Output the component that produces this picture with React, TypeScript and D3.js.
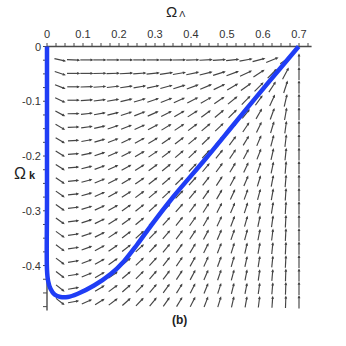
import React from 'react';
import * as d3 from 'd3';

// grid columns (Omega_Lambda) and rows (Omega_k) of the direction field
const omegaL = [0.037, 0.074, 0.111, 0.147, 0.184, 0.221, 0.258, 0.295, 0.332, 0.368, 0.405, 0.442, 0.479, 0.516, 0.553, 0.589, 0.626, 0.663, 0.7];
const omegaK = [-0.0245, -0.0491, -0.0736, -0.0981, -0.1227, -0.1472, -0.1717, -0.1962, -0.2208, -0.2453, -0.2698, -0.2944, -0.3189, -0.3434, -0.368, -0.3925, -0.417, -0.4415, -0.4661];

// arrow direction in degrees (0 = towards +Omega_Lambda, 90 = towards +Omega_k), one row per Omega_k
const angles = [
  [-12, -2, 0, 0, 0, 0, 0, 0, 0, 1, 2, 3, 4, 6, 10, 15, 22, 35, 90],
  [-18, 0, 0, 1, 2, 3, 4, 6, 8, 10, 12, 14, 17, 20, 25, 33, 45, 62, 90],
  [-22, 0, 2, 4, 6, 8, 10, 12, 15, 17, 20, 23, 26, 30, 36, 45, 57, 72, 90],
  [-25, 0, 4, 7, 10, 13, 16, 19, 21, 24, 27, 30, 34, 39, 45, 54, 65, 77, 90],
  [-28, 1, 6, 10, 14, 18, 21, 24, 27, 30, 32, 36, 40, 45, 51, 60, 70, 80, 90],
  [-30, 2, 8, 13, 18, 22, 25, 28, 31, 34, 37, 40, 44, 49, 56, 64, 73, 82, 90],
  [-31, 3, 10, 16, 21, 25, 28, 31, 34, 37, 40, 44, 48, 53, 59, 67, 75, 83, 90],
  [-32, 4, 12, 18, 23, 27, 31, 34, 37, 40, 43, 47, 51, 56, 62, 69, 77, 84, 90],
  [-33, 5, 14, 20, 25, 29, 33, 36, 39, 42, 46, 50, 54, 59, 65, 71, 78, 85, 90],
  [-34, 6, 15, 22, 27, 31, 35, 38, 41, 44, 48, 52, 57, 62, 67, 73, 79, 85, 90],
  [-35, 6, 16, 24, 29, 33, 37, 40, 43, 46, 50, 55, 60, 65, 70, 75, 80, 86, 90],
  [-35, 7, 17, 25, 30, 35, 39, 42, 46, 49, 53, 58, 63, 67, 72, 77, 81, 86, 90],
  [-36, 7, 18, 26, 32, 36, 40, 44, 48, 51, 55, 60, 65, 69, 74, 78, 82, 87, 90],
  [-36, 8, 19, 27, 33, 37, 42, 46, 49, 53, 57, 62, 67, 71, 75, 79, 83, 87, 90],
  [-37, 8, 20, 28, 34, 38, 43, 47, 51, 55, 59, 64, 69, 73, 77, 80, 84, 87, 90],
  [-37, 9, 21, 29, 35, 39, 44, 48, 52, 56, 61, 66, 70, 74, 78, 81, 84, 87, 90],
  [-38, 9, 22, 30, 35, 40, 45, 49, 53, 57, 62, 67, 71, 75, 79, 82, 85, 88, 90],
  [-38, 10, 23, 31, 36, 41, 46, 50, 54, 58, 63, 68, 72, 76, 79, 82, 85, 88, 90],
  [-38, 10, 24, 32, 37, 42, 46, 51, 55, 59, 63, 69, 73, 77, 80, 83, 86, 88, 90],
];

// relative arrow length (1 = one grid step)
const mags = [
  [0.9, 1, 1, 1, 1, 1, 1, 1, 1, 1, 1, 1, 1, 1, 1, 1, 1, 1, 1],
  [0.88, 1, 1, 1, 1, 1, 1, 1, 1, 1, 1, 1, 1, 1, 1, 1, 1, 1, 1],
  [0.86, 0.96, 0.96, 0.96, 0.96, 0.96, 0.96, 0.96, 0.96, 0.96, 0.96, 0.96, 0.96, 0.96, 0.96, 0.96, 0.96, 0.98, 1],
  [0.85, 0.93, 0.93, 0.93, 0.93, 0.93, 0.93, 0.93, 0.93, 0.93, 0.93, 0.93, 0.93, 0.93, 0.93, 0.93, 0.95, 0.97, 1],
  [0.84, 0.9, 0.9, 0.9, 0.9, 0.9, 0.9, 0.9, 0.9, 0.9, 0.9, 0.9, 0.9, 0.9, 0.9, 0.9, 0.93, 0.96, 1],
  [0.83, 0.88, 0.88, 0.88, 0.88, 0.88, 0.88, 0.88, 0.88, 0.88, 0.88, 0.88, 0.88, 0.88, 0.88, 0.88, 0.92, 0.96, 1],
  [0.82, 0.85, 0.85, 0.85, 0.85, 0.85, 0.85, 0.85, 0.85, 0.85, 0.85, 0.85, 0.85, 0.85, 0.85, 0.87, 0.9, 0.95, 1],
  [0.82, 0.85, 0.85, 0.85, 0.85, 0.85, 0.85, 0.85, 0.85, 0.85, 0.85, 0.85, 0.85, 0.85, 0.85, 0.87, 0.9, 0.95, 1],
  [0.82, 0.85, 0.85, 0.85, 0.85, 0.85, 0.85, 0.85, 0.85, 0.85, 0.85, 0.85, 0.85, 0.85, 0.85, 0.87, 0.9, 0.95, 1],
  [0.82, 0.85, 0.85, 0.85, 0.85, 0.85, 0.85, 0.85, 0.85, 0.85, 0.85, 0.85, 0.85, 0.85, 0.85, 0.87, 0.9, 0.95, 1],
  [0.82, 0.85, 0.85, 0.85, 0.85, 0.85, 0.85, 0.85, 0.85, 0.85, 0.85, 0.85, 0.85, 0.85, 0.85, 0.87, 0.9, 0.95, 1],
  [0.82, 0.85, 0.85, 0.85, 0.85, 0.85, 0.85, 0.85, 0.85, 0.85, 0.85, 0.85, 0.85, 0.85, 0.85, 0.87, 0.9, 0.95, 1],
  [0.82, 0.85, 0.85, 0.85, 0.85, 0.85, 0.85, 0.85, 0.85, 0.85, 0.85, 0.85, 0.85, 0.85, 0.85, 0.87, 0.9, 0.95, 1],
  [0.82, 0.85, 0.85, 0.85, 0.85, 0.85, 0.85, 0.85, 0.85, 0.85, 0.85, 0.85, 0.85, 0.85, 0.85, 0.87, 0.9, 0.95, 1],
  [0.82, 0.85, 0.85, 0.85, 0.85, 0.85, 0.85, 0.85, 0.85, 0.85, 0.85, 0.85, 0.85, 0.85, 0.85, 0.87, 0.9, 0.95, 1],
  [0.82, 0.85, 0.85, 0.85, 0.85, 0.85, 0.85, 0.85, 0.85, 0.85, 0.85, 0.85, 0.85, 0.85, 0.85, 0.87, 0.9, 0.95, 1],
  [0.82, 0.85, 0.85, 0.85, 0.85, 0.85, 0.85, 0.85, 0.85, 0.85, 0.85, 0.85, 0.85, 0.85, 0.85, 0.87, 0.9, 0.95, 1],
  [0.82, 0.85, 0.85, 0.85, 0.85, 0.85, 0.85, 0.85, 0.85, 0.85, 0.85, 0.85, 0.85, 0.85, 0.85, 0.87, 0.9, 0.95, 1],
  [0.82, 0.85, 0.85, 0.85, 0.85, 0.85, 0.85, 0.85, 0.85, 0.85, 0.85, 0.85, 0.85, 0.85, 0.85, 0.87, 0.9, 0.95, 1],
];

// trajectory (blue curve)
const curveL = [0, 0, 0, 0.003, 0.01, 0.021, 0.0375, 0.058, 0.084, 0.1306, 0.177, 0.214, 0.25, 0.29, 0.351, 0.44, 0.525, 0.61, 0.699];
const curveK = [0, -0.28, -0.408, -0.428, -0.443, -0.453, -0.4575, -0.4575, -0.452, -0.4365, -0.4155, -0.392, -0.362, -0.326, -0.2743, -0.2055, -0.1374, -0.0695, 0];

const xTickValues = [0, 0.1, 0.2, 0.3, 0.4, 0.5, 0.6, 0.7];
const xTickLabels = ['0', '0.1', '0.2', '0.3', '0.4', '0.5', '0.6', '0.7'];
const yTickValues = [0, -0.1, -0.2, -0.3, -0.4];
const yTickLabels = ['0', '-0.1', '-0.2', '-0.3', '-0.4'];

export default function App() {
  const width = 346,
    height = 346;
  const font = "'Liberation Sans', Arial, sans-serif";

  const x = d3.scaleLinear().domain([0, 0.7]).range([47, 299]);
  const y = d3.scaleLinear().domain([0, -0.466]).range([46.5, 301.7]);
  const step = x(omegaL[1]) - x(omegaL[0]);

  const xMinor = d3.range(0, 0.73, 0.025);
  const yMinor = d3.range(0, -0.48, -0.025);

  const arrows = [];
  omegaK.forEach((k, r) => {
    omegaL.forEach((l, c) => {
      const a = (angles[r][c] * Math.PI) / 180;
      const len = mags[r][c] * step;
      const dx = Math.cos(a),
        dy = -Math.sin(a);
      const cx = x(l),
        cy = y(k);
      const x1 = cx - (dx * len) / 2,
        y1 = cy - (dy * len) / 2;
      const x2 = cx + (dx * len) / 2,
        y2 = cy + (dy * len) / 2;
      const h = 3.2,
        w = 1.4;
      const head = [
        [x2, y2],
        [x2 - dx * h - dy * w, y2 - dy * h + dx * w],
        [x2 - dx * h + dy * w, y2 - dy * h - dx * w],
      ];
      arrows.push({ key: `${r}-${c}`, x1, y1, x2: x2 - dx * 1.5, y2: y2 - dy * 1.5, head });
    });
  });

  const line = d3
    .line()
    .x((d) => x(d[0]))
    .y((d) => y(d[1]))
    .curve(d3.curveCatmullRom.alpha(0.5));
  const curvePts = curveL.map((l, i) => [l, curveK[i]]);

  const axisColor = '#4a4a4a';

  return (
    <svg
      width={width}
      height={height}
      viewBox={`0 0 ${width} ${height}`}
      style={{ position: 'absolute', left: 0, top: 0, background: '#fff' }}
    >
      <rect width={width} height={height} fill='#fff' />

      {/* direction field */}
      <g stroke='#444' strokeWidth={1.15} fill='#444'>
        {arrows.map((a) => (
          <g key={a.key}>
            <line x1={a.x1} y1={a.y1} x2={a.x2} y2={a.y2} />
            <polygon points={a.head.map((p) => p.join(',')).join(' ')} stroke='none' />
          </g>
        ))}
      </g>

      {/* top axis */}
      <g stroke={axisColor} strokeWidth={1.4}>
        <line x1={x(0)} x2={x(0.735)} y1={y(0)} y2={y(0)} />
        {xMinor.map((v) => (
          <line key={v} x1={x(v)} x2={x(v)} y1={y(0)} y2={y(0) - 3.5} strokeWidth={1} />
        ))}
      </g>
      {xTickValues.map((v, i) => (
        <text key={v} x={x(v)} y={38} textAnchor='middle' fontFamily={font} fontSize={11} fill='#333'>
          {xTickLabels[i]}
        </text>
      ))}

      {/* left axis */}
      <g stroke={axisColor} strokeWidth={1.4}>
        <line x1={x(0)} x2={x(0)} y1={y(0)} y2={y(-0.482)} />
        {yMinor.map((v) => (
          <line key={v} x1={x(0)} x2={x(0) - 4} y1={y(v)} y2={y(v)} strokeWidth={1} />
        ))}
      </g>
      {yTickValues.map((v, i) => (
        <text key={v} x={41} y={y(v) + 4} textAnchor='end' fontFamily={font} fontSize={11} fill='#333'>
          {yTickLabels[i]}
        </text>
      ))}

      {/* trajectory */}
      <path d={line(curvePts)} fill='none' stroke='#1f3df5' strokeWidth={4.5} strokeLinejoin='round' />

      {/* axis titles */}
      <text x={166} y={17} fontFamily={font} fontSize={15} fill='#222'>
        Ω<tspan fontSize={9} dx={2}>Λ</tspan>
      </text>
      <text x={14} y={179} fontFamily={font} fontSize={16} fill='#222'>
        Ω<tspan fontSize={11} fontWeight='bold' dx={3}>k</tspan>
      </text>
      <text x={172} y={324} fontFamily={font} fontSize={12} fontWeight='bold' fill='#222'>
        (b)
      </text>
    </svg>
  );
}
